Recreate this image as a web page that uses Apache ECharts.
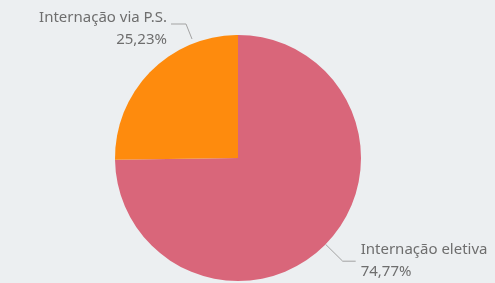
<!DOCTYPE html>
<html>
<head>
<meta charset="utf-8">
<script src="https://cdn.jsdelivr.net/npm/echarts@6/dist/echarts.min.js"></script>
<style>
  html, body { margin: 0; padding: 0; background: #eceff1; }
  #main { width: 495px; height: 283px; }
</style>
</head>
<body>
<div id="main"></div>
<script>
var categories = ['Internação eletiva', 'Internação via P.S.'];
var values = [74.77, 25.23];
var colors = ['#d9667a', '#fe8b0d'];

var myChart = echarts.init(document.getElementById('main'));
var option = {
    backgroundColor: '#eceff1',
    color: colors,
    series: [
        {
            type: 'pie',
            center: [238, 158],
            radius: 123,
            startAngle: 90,
            clockwise: true,
            data: categories.map(function (c, i) {
                return { name: c, value: values[i] };
            }),
            label: {
                show: true,
                color: '#6e6e6e',
                fontFamily: 'Noto Sans',
                fontSize: 15,
                lineHeight: 22,
                overflow: 'none',
                formatter: function (p) {
                    return p.name + '\n' + p.value.toFixed(2).replace('.', ',') + '%';
                }
            },
            labelLine: {
                show: true,
                length: 24,
                length2: 13,
                lineStyle: { color: '#a3a3a3', width: 1 }
            },
            // the small slice's label sits higher up, near the top of the pie
            labelLayout: function (params) {
                if (params.dataIndex === 1) {
                    return {
                        x: 167,
                        y: 29,
                        align: 'right',
                        verticalAlign: 'middle',
                        labelLinePoints: [[192, 39], [186, 24], [171, 24]]
                    };
                }
            },
            itemStyle: { borderWidth: 0 },
            emphasis: { disabled: true }
        }
    ]
};
myChart.setOption(option);
</script>
</body>
</html>
